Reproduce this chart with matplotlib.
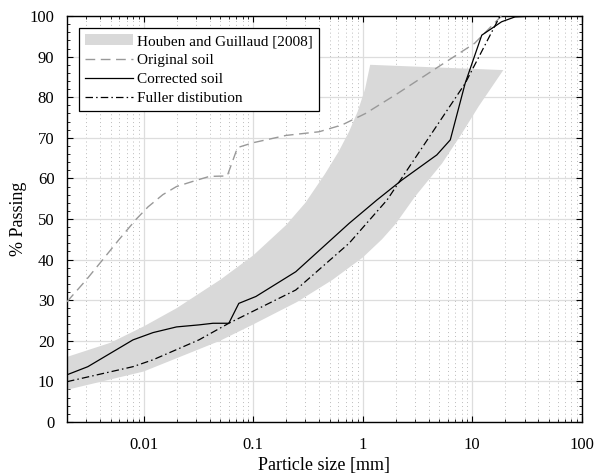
import numpy as np
import matplotlib.pyplot as plt
from matplotlib.ticker import FixedLocator, NullFormatter, MultipleLocator

plt.rcParams['font.family'] = ['Liberation Serif', 'DejaVu Serif']

# Houben and Guillaud [2008] envelope
band_up_d = [0.002, 0.005, 0.01, 0.02, 0.05, 0.1, 0.2, 0.3, 0.45, 0.6, 0.75, 0.9, 1.05, 1.17, 19.2]
band_up_p = [16, 19.5, 23.5, 28, 35, 41, 48.5, 54, 61, 66.5, 71.5, 76.5, 82, 88, 86.7]
band_lo_d = [0.002, 0.01, 0.05, 0.1, 0.25, 0.53, 1.0, 1.5, 2.0, 3.0, 5.3, 8.0, 11.4, 19.2]
band_lo_p = [7.9, 12.4, 20, 24, 29.5, 35, 40.5, 45, 48.8, 55.5, 63.7, 71, 77.7, 86.7]

orig_d = [0.002, 0.003, 0.00425, 0.006, 0.0086, 0.011, 0.015, 0.02, 0.03, 0.04,
          0.058, 0.072, 0.1, 0.2, 0.4, 0.65, 1.06, 2.1, 4.9, 10.5, 18.4]
orig_p = [29.6, 35, 40, 45, 50, 53, 56, 58, 59.5, 60.5,
          60.6, 67.6, 68.8, 70.6, 71.5, 73.2, 76, 81, 87.5, 93.3, 100]

corr_d = [0.002, 0.0031, 0.008, 0.0122, 0.02, 0.032, 0.043, 0.06, 0.074, 0.106,
          0.245, 0.75, 1.35, 2.28, 4.75, 6.3, 8.6, 12.2, 18.5, 24.5, 36]
corr_p = [11.6, 13.6, 20.2, 22, 23.4, 23.9, 24.3, 24.3, 29.2, 30.9,
          37, 48.9, 54.7, 59.6, 65.8, 69.5, 83.4, 95.3, 98.6, 99.8, 100]

full_d = [0.002, 0.008, 0.0122, 0.032, 0.06, 0.245, 0.75, 1.67, 8.6, 17.9]
full_p = [9.9, 13.6, 15.3, 20.2, 24.3, 32.5, 44, 54.7, 83.4, 100]

fig = plt.figure(figsize=(5.98, 4.74), dpi=100)
ax = fig.add_axes([0.112, 0.110, 0.861, 0.856])

ax.fill(band_up_d + band_lo_d[::-1], band_up_p + band_lo_p[::-1],
        color='#d9d9d9', lw=0, label='Houben and Guillaud [2008]', zorder=1)
ax.plot(orig_d, orig_p, ls=(0, (7, 4)), color='#999999', lw=1.0,
        label='Original soil', zorder=3)
ax.plot(corr_d, corr_p, '-', color='black', lw=0.9, label='Corrected soil', zorder=3)
ax.plot(full_d, full_p, ls=(0, (6, 2.5, 1.2, 2.5)), color='black', lw=0.9,
        label='Fuller distibution', zorder=3)

ax.set_xscale('log')
ax.set_xlim(0.002, 100)
ax.set_ylim(0, 100)
ax.xaxis.set_major_locator(FixedLocator([0.01, 0.1, 1, 10, 100]))
ax.set_xticklabels(['0.01', '0.1', '1', '10', '100'])
minors = [m * 10.0**e for e in range(-3, 2) for m in range(2, 10)]
ax.xaxis.set_minor_locator(FixedLocator(minors))
ax.xaxis.set_minor_formatter(NullFormatter())
ax.yaxis.set_major_locator(MultipleLocator(10))
ax.yaxis.set_minor_locator(MultipleLocator(2))

ax.grid(which='major', color='#dddddd', lw=0.9, zorder=0)
ax.grid(which='minor', axis='x', color='#bbbbbb', ls=(0, (1, 3)), lw=0.7, zorder=0)
ax.set_axisbelow(True)
ax.tick_params(which='both', direction='in', top=True, right=True, labelsize=12)
ax.tick_params(which='major', length=4)
ax.tick_params(which='minor', length=2)
ax.tick_params(axis='x', which='major', pad=11)
ax.tick_params(axis='y', which='major', pad=9)
for s in ax.spines.values():
    s.set_linewidth(1.0)

ax.set_xlabel('Particle size [mm]', fontsize=13, labelpad=3)
ax.set_ylabel('% Passing', fontsize=13, labelpad=2)

leg = ax.legend(loc='upper left', fontsize=11, frameon=True, fancybox=False,
                edgecolor='black', framealpha=1, borderaxespad=0.8,
                handlelength=3.1, handletextpad=0.3, labelspacing=0.35,
                borderpad=0.4)
leg.get_frame().set_linewidth(0.9)

fig.savefig('out.png', dpi=100)
